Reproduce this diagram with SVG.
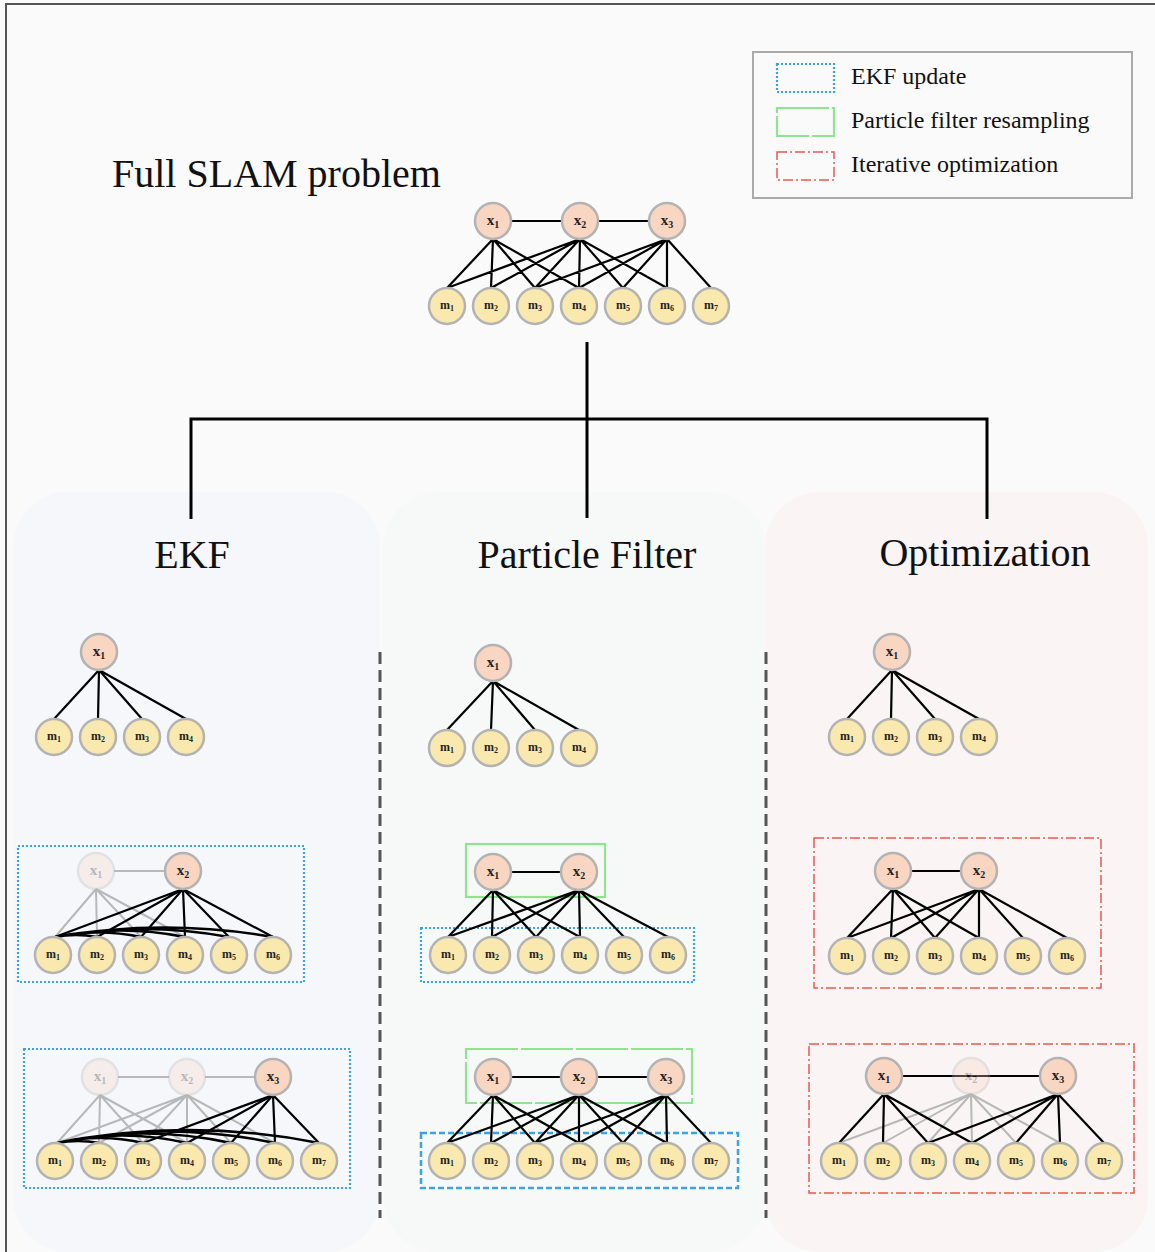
<svg xmlns="http://www.w3.org/2000/svg" width="1155" height="1252" viewBox="0 0 1155 1252">
<defs>
<style>
.xn{fill:#f9d6c1;stroke:#b3b3b3;stroke-width:2.5}
.mn{fill:#f9e9ae;stroke:#b3b3b3;stroke-width:2.5}
.fade{opacity:0.3}
.lx{font-family:"Liberation Serif",serif;font-weight:bold;font-size:15px;fill:#222;text-anchor:middle}
.lm{font-family:"Liberation Serif",serif;font-weight:bold;font-size:12px;fill:#222;text-anchor:middle}
.s{font-size:10px}
.s2{font-size:8px}
.e{stroke:#000;stroke-width:2.2;fill:none}
.arc{stroke:#000;stroke-width:2.4;fill:none}
.g{stroke:#b8b8b8;stroke-width:2;fill:none}
.tree{stroke:#000;stroke-width:3;fill:none}
.sep{stroke:#555;stroke-width:3;stroke-dasharray:12 6}
.ekf{fill:none;stroke:#3ba3e0;stroke-width:2.2;stroke-dasharray:2 2}
.ekfd{fill:none;stroke:#3ba3e0;stroke-width:2.5;stroke-dasharray:6 3}
.pf{fill:none;stroke:#8fe58f;stroke-width:2.2}
.pfd{fill:none;stroke:#8fe58f;stroke-width:2.2;stroke-dasharray:52 3}
.opt{fill:none;stroke:#e85a50;stroke-width:1.5;stroke-dasharray:10 3 2 3}
.title{font-family:"Liberation Serif",serif;font-size:40px;fill:#111}
.leg{font-family:"Liberation Serif",serif;font-size:24px;fill:#111}
</style>
</defs>
<rect x="0" y="0" width="1155" height="1252" fill="#fafafa"/>
<rect x="6" y="4" width="1160" height="1260" fill="none" stroke="#555" stroke-width="2"/>
<g id="panels">
<rect x="13" y="492" width="367" height="760" rx="55" fill="#f5f7fb"/>
<rect x="383" y="492" width="382" height="760" rx="55" fill="#f7f9f9"/>
<rect x="765" y="492" width="383" height="760" rx="55" fill="#faf4f4"/>
</g>
<line class="sep" x1="380" y1="652" x2="380" y2="1218"/>
<line class="sep" x1="766" y1="652" x2="766" y2="1218"/>
<text class="title" x="112" y="187">Full SLAM problem</text>
<text class="title" x="192" y="568" text-anchor="middle">EKF</text>
<text class="title" x="587" y="568" text-anchor="middle">Particle Filter</text>
<text class="title" x="985" y="566" text-anchor="middle">Optimization</text>
<g id="legend">
<rect x="753" y="52" width="379" height="146" fill="#fafafa" stroke="#aaa" stroke-width="2"/>
<rect class="ekf" x="777" y="64" width="57" height="28"/>
<rect class="pfd" x="777" y="108" width="57" height="28"/>
<rect class="opt" x="777" y="152" width="57" height="28" stroke-width="2"/>
<text class="leg" x="851" y="84">EKF update</text>
<text class="leg" x="851" y="128">Particle filter resampling</text>
<text class="leg" x="851" y="172">Iterative optimization</text>
</g>
<g id="regions">
<rect class="ekf" x="18" y="846" width="286" height="136"/>
<rect class="ekf" x="24" y="1049" width="326" height="139"/>
<rect class="pf" x="466" y="844" width="139" height="53"/>
<rect class="ekf" x="421" y="928" width="273" height="54"/>
<rect class="pfd" x="466" y="1049" width="226" height="54"/>
<rect class="ekfd" x="421" y="1133" width="317" height="55"/>
<rect class="opt" x="814" y="838" width="287" height="150"/>
<rect class="opt" x="809" y="1044" width="325" height="149"/>
</g>
<g id="connectors">
<path class="tree" d="M587 342V518 M191 519V419H987V519"/>
<path class="e" d="M511 221H562 M598 221H649 M493 239L447 288 M493 239L491 288 M493 239L535 288 M493 239L579 288 M580 239L447 288 M580 239L491 288 M580 239L535 288 M580 239L579 288 M580 239L623 288 M580 239L667 288 M667 239L535 288 M667 239L579 288 M667 239L623 288 M667 239L667 288 M667 239L711 288"/>
<path class="e" d="M99 670L54 719 M99 670L98 719 M99 670L142 719 M99 670L186 719"/>
<path class="e" d="M493 681L447 730 M493 681L491 730 M493 681L535 730 M493 681L579 730"/>
<path class="e" d="M892 670L847 719 M892 670L891 719 M892 670L935 719 M892 670L979 719"/>
<path class="g" d="M114 871H165 M96 889L55 937 M96 889L97 937 M96 889L141 937 M96 889L185 937"/>
<path class="e" d="M183 889L55 937 M183 889L97 937 M183 889L141 937 M183 889L185 937 M183 889L229 937 M183 889L273 937"/>
<path class="arc" d="M55 937Q76 933 97 937 M55 937Q98 928 141 937 M55 937Q120 924 185 937 M55 937Q142 921 229 937 M55 937Q164 918 273 937"/>
<path class="g" d="M118 1077H169 M205 1077H255 M100 1095L57 1143 M100 1095L99 1143 M100 1095L143 1143 M100 1095L187 1143 M187 1095L57 1143 M187 1095L99 1143 M187 1095L143 1143 M187 1095L187 1143 M187 1095L231 1143 M187 1095L275 1143"/>
<path class="e" d="M273 1095L143 1143 M273 1095L187 1143 M273 1095L231 1143 M273 1095L275 1143 M273 1095L319 1143"/>
<path class="arc" d="M57 1143Q78 1139 99 1143 M57 1143Q100 1133 143 1143 M57 1143Q122 1128 187 1143 M57 1143Q144 1124 231 1143 M57 1143Q166 1120 275 1143 M57 1143Q188 1117 319 1143"/>
<path class="e" d="M511 872H561 M493 890L448 937 M493 890L492 937 M493 890L536 937 M493 890L580 937 M579 890L448 937 M579 890L492 937 M579 890L536 937 M579 890L580 937 M579 890L624 937 M579 890L668 937"/>
<path class="e" d="M511 1077H561 M597 1077H648 M493 1095L447 1143 M493 1095L491 1143 M493 1095L535 1143 M493 1095L579 1143 M579 1095L447 1143 M579 1095L491 1143 M579 1095L535 1143 M579 1095L579 1143 M579 1095L623 1143 M579 1095L667 1143 M666 1095L535 1143 M666 1095L579 1143 M666 1095L623 1143 M666 1095L667 1143 M666 1095L711 1143"/>
<path class="e" d="M911 871H961 M893 889L847 938 M893 889L891 938 M893 889L935 938 M893 889L979 938 M979 889L847 938 M979 889L891 938 M979 889L935 938 M979 889L979 938 M979 889L1023 938 M979 889L1067 938"/>
<path class="g" d="M971 1094L839 1143 M971 1094L883 1143 M971 1094L928 1143 M971 1094L972 1143 M971 1094L1016 1143 M971 1094L1060 1143"/>
<path class="e" d="M902 1076H1040 M884 1094L839 1143 M884 1094L883 1143 M884 1094L928 1143 M884 1094L972 1143 M1058 1094L928 1143 M1058 1094L972 1143 M1058 1094L1016 1143 M1058 1094L1060 1143 M1058 1094L1104 1143"/>
</g>
<g id="top-x1"><circle class="xn" cx="493" cy="221" r="18"/><text class="lx" x="493" y="225">x<tspan class="s" dy="3">1</tspan></text></g>
<g id="top-x2"><circle class="xn" cx="580" cy="221" r="18"/><text class="lx" x="580" y="225">x<tspan class="s" dy="3">2</tspan></text></g>
<g id="top-x3"><circle class="xn" cx="667" cy="221" r="18"/><text class="lx" x="667" y="225">x<tspan class="s" dy="3">3</tspan></text></g>
<g id="top-m1"><circle class="mn" cx="447" cy="306" r="18"/><text class="lm" x="447" y="309">m<tspan class="s2" dy="2">1</tspan></text></g>
<g id="top-m2"><circle class="mn" cx="491" cy="306" r="18"/><text class="lm" x="491" y="309">m<tspan class="s2" dy="2">2</tspan></text></g>
<g id="top-m3"><circle class="mn" cx="535" cy="306" r="18"/><text class="lm" x="535" y="309">m<tspan class="s2" dy="2">3</tspan></text></g>
<g id="top-m4"><circle class="mn" cx="579" cy="306" r="18"/><text class="lm" x="579" y="309">m<tspan class="s2" dy="2">4</tspan></text></g>
<g id="top-m5"><circle class="mn" cx="623" cy="306" r="18"/><text class="lm" x="623" y="309">m<tspan class="s2" dy="2">5</tspan></text></g>
<g id="top-m6"><circle class="mn" cx="667" cy="306" r="18"/><text class="lm" x="667" y="309">m<tspan class="s2" dy="2">6</tspan></text></g>
<g id="top-m7"><circle class="mn" cx="711" cy="306" r="18"/><text class="lm" x="711" y="309">m<tspan class="s2" dy="2">7</tspan></text></g>
<g id="ekf1-x1"><circle class="xn" cx="99" cy="652" r="18"/><text class="lx" x="99" y="656">x<tspan class="s" dy="3">1</tspan></text></g>
<g id="ekf1-m1"><circle class="mn" cx="54" cy="737" r="18"/><text class="lm" x="54" y="740">m<tspan class="s2" dy="2">1</tspan></text></g>
<g id="ekf1-m2"><circle class="mn" cx="98" cy="737" r="18"/><text class="lm" x="98" y="740">m<tspan class="s2" dy="2">2</tspan></text></g>
<g id="ekf1-m3"><circle class="mn" cx="142" cy="737" r="18"/><text class="lm" x="142" y="740">m<tspan class="s2" dy="2">3</tspan></text></g>
<g id="ekf1-m4"><circle class="mn" cx="186" cy="737" r="18"/><text class="lm" x="186" y="740">m<tspan class="s2" dy="2">4</tspan></text></g>
<g id="ekf2-x1" class="fade"><circle class="xn" cx="96" cy="871" r="18"/><text class="lx" x="96" y="875">x<tspan class="s" dy="3">1</tspan></text></g>
<g id="ekf2-x2"><circle class="xn" cx="183" cy="871" r="18"/><text class="lx" x="183" y="875">x<tspan class="s" dy="3">2</tspan></text></g>
<g id="ekf2-m1"><circle class="mn" cx="53" cy="955" r="18"/><text class="lm" x="53" y="958">m<tspan class="s2" dy="2">1</tspan></text></g>
<g id="ekf2-m2"><circle class="mn" cx="97" cy="955" r="18"/><text class="lm" x="97" y="958">m<tspan class="s2" dy="2">2</tspan></text></g>
<g id="ekf2-m3"><circle class="mn" cx="141" cy="955" r="18"/><text class="lm" x="141" y="958">m<tspan class="s2" dy="2">3</tspan></text></g>
<g id="ekf2-m4"><circle class="mn" cx="185" cy="955" r="18"/><text class="lm" x="185" y="958">m<tspan class="s2" dy="2">4</tspan></text></g>
<g id="ekf2-m5"><circle class="mn" cx="229" cy="955" r="18"/><text class="lm" x="229" y="958">m<tspan class="s2" dy="2">5</tspan></text></g>
<g id="ekf2-m6"><circle class="mn" cx="273" cy="955" r="18"/><text class="lm" x="273" y="958">m<tspan class="s2" dy="2">6</tspan></text></g>
<g id="ekf3-x1" class="fade"><circle class="xn" cx="100" cy="1077" r="18"/><text class="lx" x="100" y="1081">x<tspan class="s" dy="3">1</tspan></text></g>
<g id="ekf3-x2" class="fade"><circle class="xn" cx="187" cy="1077" r="18"/><text class="lx" x="187" y="1081">x<tspan class="s" dy="3">2</tspan></text></g>
<g id="ekf3-x3"><circle class="xn" cx="273" cy="1077" r="18"/><text class="lx" x="273" y="1081">x<tspan class="s" dy="3">3</tspan></text></g>
<g id="ekf3-m1"><circle class="mn" cx="55" cy="1161" r="18"/><text class="lm" x="55" y="1164">m<tspan class="s2" dy="2">1</tspan></text></g>
<g id="ekf3-m2"><circle class="mn" cx="99" cy="1161" r="18"/><text class="lm" x="99" y="1164">m<tspan class="s2" dy="2">2</tspan></text></g>
<g id="ekf3-m3"><circle class="mn" cx="143" cy="1161" r="18"/><text class="lm" x="143" y="1164">m<tspan class="s2" dy="2">3</tspan></text></g>
<g id="ekf3-m4"><circle class="mn" cx="187" cy="1161" r="18"/><text class="lm" x="187" y="1164">m<tspan class="s2" dy="2">4</tspan></text></g>
<g id="ekf3-m5"><circle class="mn" cx="231" cy="1161" r="18"/><text class="lm" x="231" y="1164">m<tspan class="s2" dy="2">5</tspan></text></g>
<g id="ekf3-m6"><circle class="mn" cx="275" cy="1161" r="18"/><text class="lm" x="275" y="1164">m<tspan class="s2" dy="2">6</tspan></text></g>
<g id="ekf3-m7"><circle class="mn" cx="319" cy="1161" r="18"/><text class="lm" x="319" y="1164">m<tspan class="s2" dy="2">7</tspan></text></g>
<g id="pf1-x1"><circle class="xn" cx="493" cy="663" r="18"/><text class="lx" x="493" y="667">x<tspan class="s" dy="3">1</tspan></text></g>
<g id="pf1-m1"><circle class="mn" cx="447" cy="748" r="18"/><text class="lm" x="447" y="751">m<tspan class="s2" dy="2">1</tspan></text></g>
<g id="pf1-m2"><circle class="mn" cx="491" cy="748" r="18"/><text class="lm" x="491" y="751">m<tspan class="s2" dy="2">2</tspan></text></g>
<g id="pf1-m3"><circle class="mn" cx="535" cy="748" r="18"/><text class="lm" x="535" y="751">m<tspan class="s2" dy="2">3</tspan></text></g>
<g id="pf1-m4"><circle class="mn" cx="579" cy="748" r="18"/><text class="lm" x="579" y="751">m<tspan class="s2" dy="2">4</tspan></text></g>
<g id="pf2-x1"><circle class="xn" cx="493" cy="872" r="18"/><text class="lx" x="493" y="876">x<tspan class="s" dy="3">1</tspan></text></g>
<g id="pf2-x2"><circle class="xn" cx="579" cy="872" r="18"/><text class="lx" x="579" y="876">x<tspan class="s" dy="3">2</tspan></text></g>
<g id="pf2-m1"><circle class="mn" cx="448" cy="955" r="18"/><text class="lm" x="448" y="958">m<tspan class="s2" dy="2">1</tspan></text></g>
<g id="pf2-m2"><circle class="mn" cx="492" cy="955" r="18"/><text class="lm" x="492" y="958">m<tspan class="s2" dy="2">2</tspan></text></g>
<g id="pf2-m3"><circle class="mn" cx="536" cy="955" r="18"/><text class="lm" x="536" y="958">m<tspan class="s2" dy="2">3</tspan></text></g>
<g id="pf2-m4"><circle class="mn" cx="580" cy="955" r="18"/><text class="lm" x="580" y="958">m<tspan class="s2" dy="2">4</tspan></text></g>
<g id="pf2-m5"><circle class="mn" cx="624" cy="955" r="18"/><text class="lm" x="624" y="958">m<tspan class="s2" dy="2">5</tspan></text></g>
<g id="pf2-m6"><circle class="mn" cx="668" cy="955" r="18"/><text class="lm" x="668" y="958">m<tspan class="s2" dy="2">6</tspan></text></g>
<g id="pf3-x1"><circle class="xn" cx="493" cy="1077" r="18"/><text class="lx" x="493" y="1081">x<tspan class="s" dy="3">1</tspan></text></g>
<g id="pf3-x2"><circle class="xn" cx="579" cy="1077" r="18"/><text class="lx" x="579" y="1081">x<tspan class="s" dy="3">2</tspan></text></g>
<g id="pf3-x3"><circle class="xn" cx="666" cy="1077" r="18"/><text class="lx" x="666" y="1081">x<tspan class="s" dy="3">3</tspan></text></g>
<g id="pf3-m1"><circle class="mn" cx="447" cy="1161" r="18"/><text class="lm" x="447" y="1164">m<tspan class="s2" dy="2">1</tspan></text></g>
<g id="pf3-m2"><circle class="mn" cx="491" cy="1161" r="18"/><text class="lm" x="491" y="1164">m<tspan class="s2" dy="2">2</tspan></text></g>
<g id="pf3-m3"><circle class="mn" cx="535" cy="1161" r="18"/><text class="lm" x="535" y="1164">m<tspan class="s2" dy="2">3</tspan></text></g>
<g id="pf3-m4"><circle class="mn" cx="579" cy="1161" r="18"/><text class="lm" x="579" y="1164">m<tspan class="s2" dy="2">4</tspan></text></g>
<g id="pf3-m5"><circle class="mn" cx="623" cy="1161" r="18"/><text class="lm" x="623" y="1164">m<tspan class="s2" dy="2">5</tspan></text></g>
<g id="pf3-m6"><circle class="mn" cx="667" cy="1161" r="18"/><text class="lm" x="667" y="1164">m<tspan class="s2" dy="2">6</tspan></text></g>
<g id="pf3-m7"><circle class="mn" cx="711" cy="1161" r="18"/><text class="lm" x="711" y="1164">m<tspan class="s2" dy="2">7</tspan></text></g>
<g id="opt1-x1"><circle class="xn" cx="892" cy="652" r="18"/><text class="lx" x="892" y="656">x<tspan class="s" dy="3">1</tspan></text></g>
<g id="opt1-m1"><circle class="mn" cx="847" cy="737" r="18"/><text class="lm" x="847" y="740">m<tspan class="s2" dy="2">1</tspan></text></g>
<g id="opt1-m2"><circle class="mn" cx="891" cy="737" r="18"/><text class="lm" x="891" y="740">m<tspan class="s2" dy="2">2</tspan></text></g>
<g id="opt1-m3"><circle class="mn" cx="935" cy="737" r="18"/><text class="lm" x="935" y="740">m<tspan class="s2" dy="2">3</tspan></text></g>
<g id="opt1-m4"><circle class="mn" cx="979" cy="737" r="18"/><text class="lm" x="979" y="740">m<tspan class="s2" dy="2">4</tspan></text></g>
<g id="opt2-x1"><circle class="xn" cx="893" cy="871" r="18"/><text class="lx" x="893" y="875">x<tspan class="s" dy="3">1</tspan></text></g>
<g id="opt2-x2"><circle class="xn" cx="979" cy="871" r="18"/><text class="lx" x="979" y="875">x<tspan class="s" dy="3">2</tspan></text></g>
<g id="opt2-m1"><circle class="mn" cx="847" cy="956" r="18"/><text class="lm" x="847" y="959">m<tspan class="s2" dy="2">1</tspan></text></g>
<g id="opt2-m2"><circle class="mn" cx="891" cy="956" r="18"/><text class="lm" x="891" y="959">m<tspan class="s2" dy="2">2</tspan></text></g>
<g id="opt2-m3"><circle class="mn" cx="935" cy="956" r="18"/><text class="lm" x="935" y="959">m<tspan class="s2" dy="2">3</tspan></text></g>
<g id="opt2-m4"><circle class="mn" cx="979" cy="956" r="18"/><text class="lm" x="979" y="959">m<tspan class="s2" dy="2">4</tspan></text></g>
<g id="opt2-m5"><circle class="mn" cx="1023" cy="956" r="18"/><text class="lm" x="1023" y="959">m<tspan class="s2" dy="2">5</tspan></text></g>
<g id="opt2-m6"><circle class="mn" cx="1067" cy="956" r="18"/><text class="lm" x="1067" y="959">m<tspan class="s2" dy="2">6</tspan></text></g>
<g id="opt3-x1"><circle class="xn" cx="884" cy="1076" r="18"/><text class="lx" x="884" y="1080">x<tspan class="s" dy="3">1</tspan></text></g>
<g id="opt3-x2" class="fade"><circle class="xn" cx="971" cy="1076" r="18"/><text class="lx" x="971" y="1080">x<tspan class="s" dy="3">2</tspan></text></g>
<g id="opt3-x3"><circle class="xn" cx="1058" cy="1076" r="18"/><text class="lx" x="1058" y="1080">x<tspan class="s" dy="3">3</tspan></text></g>
<g id="opt3-m1"><circle class="mn" cx="839" cy="1161" r="18"/><text class="lm" x="839" y="1164">m<tspan class="s2" dy="2">1</tspan></text></g>
<g id="opt3-m2"><circle class="mn" cx="883" cy="1161" r="18"/><text class="lm" x="883" y="1164">m<tspan class="s2" dy="2">2</tspan></text></g>
<g id="opt3-m3"><circle class="mn" cx="928" cy="1161" r="18"/><text class="lm" x="928" y="1164">m<tspan class="s2" dy="2">3</tspan></text></g>
<g id="opt3-m4"><circle class="mn" cx="972" cy="1161" r="18"/><text class="lm" x="972" y="1164">m<tspan class="s2" dy="2">4</tspan></text></g>
<g id="opt3-m5"><circle class="mn" cx="1016" cy="1161" r="18"/><text class="lm" x="1016" y="1164">m<tspan class="s2" dy="2">5</tspan></text></g>
<g id="opt3-m6"><circle class="mn" cx="1060" cy="1161" r="18"/><text class="lm" x="1060" y="1164">m<tspan class="s2" dy="2">6</tspan></text></g>
<g id="opt3-m7"><circle class="mn" cx="1104" cy="1161" r="18"/><text class="lm" x="1104" y="1164">m<tspan class="s2" dy="2">7</tspan></text></g>
</svg>
